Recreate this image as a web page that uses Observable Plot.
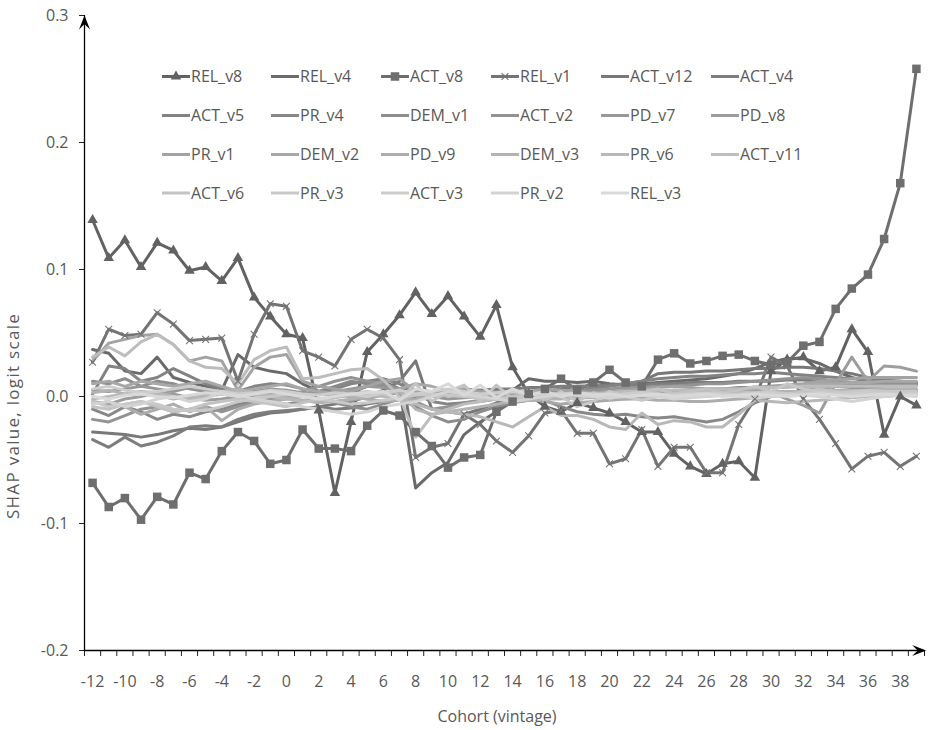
<!DOCTYPE html>
<html><head><meta charset="utf-8">
<script src="https://cdn.jsdelivr.net/npm/d3@7"></script>
<script src="https://cdn.jsdelivr.net/npm/@observablehq/plot@0.6"></script>
<style>
body{margin:0;background:#fff;}
#chart{width:928px;height:730px;overflow:hidden;}
</style></head><body><div id="chart"></div>
<script>
// ---------- DATA ----------
const cohorts = [-12,-11,-10,-9,-8,-7,-6,-5,-4,-3,-2,-1,0,1,2,3,4,5,6,7,8,9,10,11,12,13,14,15,16,17,18,19,20,21,22,23,24,25,26,27,28,29,30,31,32,33,34,35,36,37,38,39];
const xTickLabels = [-12,-10,-8,-6,-4,-2,0,2,4,6,8,10,12,14,16,18,20,22,24,26,28,30,32,34,36,38];
const yTickLabels = [-0.2,-0.1,0.0,0.1,0.2,0.3];
const seriesNames = ["REL_v8","REL_v4","ACT_v8","REL_v1","ACT_v12","ACT_v4","ACT_v5","PR_v4","DEM_v1","ACT_v2","PD_v7","PD_v8","PR_v1","DEM_v2","PD_v9","DEM_v3","PR_v6","ACT_v11","ACT_v6","PR_v3","ACT_v3","PR_v2","REL_v3"];
const xTitle = "Cohort (vintage)";
const yTitle = "SHAP value, logit scale";

const REL_v8 = [0.139,0.109,0.123,0.102,0.121,0.115,0.099,0.102,0.091,0.109,0.078,0.063,0.049,
  0.046,-0.011,-0.076,-0.020,0.035,0.049,0.064,0.082,0.065,0.079,0.063,0.047,0.072,
  0.023,0.002,-0.008,-0.012,-0.005,-0.009,-0.013,-0.020,-0.028,-0.028,-0.045,-0.055,-0.061,
  -0.053,-0.051,-0.064,0.020,0.029,0.031,0.020,0.023,0.053,0.035,-0.030,0.000,-0.007];
const REL_v4 = [0.037,0.034,0.020,0.018,0.031,0.015,0.011,0.008,0.005,0.033,0.023,0.020,0.018,
  0.010,0.004,0.000,0.003,0.008,0.012,0.006,-0.072,-0.060,-0.052,-0.030,-0.020,-0.012,
  0.005,0.014,0.012,0.012,0.011,0.012,0.010,0.009,0.010,0.011,0.012,0.013,0.014,
  0.016,0.018,0.022,0.027,0.030,0.030,0.026,0.020,0.015,0.012,0.011,0.010,0.010];
const ACT_v8 = [-0.068,-0.087,-0.080,-0.097,-0.079,-0.085,-0.060,-0.065,-0.043,-0.028,-0.035,-0.053,-0.050,
  -0.026,-0.041,-0.041,-0.043,-0.023,-0.011,-0.015,-0.028,-0.039,-0.056,-0.048,-0.046,-0.012,
  -0.004,0.002,0.006,0.014,0.005,0.011,0.021,0.011,0.008,0.029,0.034,0.026,0.028,
  0.032,0.033,0.028,0.025,0.027,0.040,0.043,0.069,0.085,0.096,0.124,0.168,0.258];
const REL_v1 = [0.027,0.053,0.048,0.049,0.066,0.057,0.044,0.045,0.046,0.012,0.049,0.073,0.071,
  0.036,0.031,0.024,0.045,0.053,0.046,0.029,-0.048,-0.040,-0.037,-0.014,-0.022,-0.035,
  -0.044,-0.031,-0.013,-0.011,-0.029,-0.029,-0.053,-0.049,-0.026,-0.055,-0.040,-0.040,-0.060,
  -0.060,-0.022,-0.002,0.031,0.024,-0.002,-0.018,-0.037,-0.057,-0.047,-0.044,-0.055,-0.047];
const ACT_v12 = [-0.028,-0.029,-0.030,-0.032,-0.030,-0.027,-0.025,-0.026,-0.024,-0.020,-0.016,-0.013,-0.012,
  -0.010,-0.008,-0.006,-0.004,0.000,0.005,0.012,0.028,-0.010,-0.012,-0.014,-0.010,-0.005,
  0.000,0.002,0.004,0.006,0.008,0.008,0.009,0.010,0.012,0.018,0.019,0.019,0.020,
  0.020,0.021,0.022,0.022,0.023,0.023,0.022,0.020,0.018,0.015,0.013,0.012,0.010];
const ACT_v4 = [-0.034,-0.040,-0.032,-0.039,-0.036,-0.031,-0.024,-0.023,-0.024,-0.018,-0.014,-0.012,-0.011,
  -0.010,-0.008,-0.010,-0.009,-0.006,-0.004,-0.002,0.000,0.002,0.003,0.004,0.005,0.006,
  0.006,0.007,0.007,0.008,0.008,0.008,0.009,0.009,0.009,0.010,0.010,0.011,0.011,
  0.011,0.012,0.012,0.012,0.013,0.013,0.012,0.012,0.011,0.011,0.010,0.010,0.009];
const ACT_v5 = [0.002,0.024,0.022,0.012,0.015,0.022,0.016,0.010,0.006,0.004,0.008,0.010,0.009,
  0.006,0.004,0.006,0.010,0.012,0.014,0.010,0.002,-0.004,-0.006,-0.005,-0.004,-0.002,
  0.000,0.002,0.003,0.004,0.005,0.006,0.008,0.010,0.012,0.014,0.015,0.016,0.016,
  0.017,0.018,0.018,0.019,0.018,0.017,0.016,0.015,0.014,0.013,0.012,0.012,0.011];
const PR_v4 = [-0.010,-0.015,-0.008,-0.012,-0.018,-0.014,-0.016,-0.012,-0.010,-0.006,-0.004,-0.003,0.000,
  0.002,0.004,0.008,0.012,0.010,0.008,0.006,0.003,0.002,0.004,0.006,0.005,0.004,
  0.003,0.002,-0.003,-0.008,-0.012,-0.014,-0.015,-0.014,-0.016,-0.017,-0.016,-0.018,-0.020,
  -0.018,-0.012,-0.005,0.000,0.003,0.005,0.006,0.008,0.007,0.006,0.005,0.005,0.004];
const DEM_v1 = [0.012,0.010,0.014,0.008,0.012,0.010,0.006,0.004,0.002,0.000,-0.002,-0.004,-0.006,
  -0.004,-0.002,-0.005,-0.008,-0.010,-0.006,-0.002,-0.008,-0.015,-0.020,-0.018,-0.012,-0.008,
  -0.005,-0.003,-0.002,-0.001,0.000,0.001,0.002,0.002,0.003,0.004,0.005,0.005,0.006,
  0.006,0.007,0.007,0.008,0.008,0.008,0.009,0.009,0.010,0.010,0.010,0.011,0.011];
const ACT_v2 = [-0.018,-0.020,-0.015,-0.010,-0.008,-0.012,-0.010,-0.008,-0.012,-0.008,-0.005,-0.002,0.000,
  0.004,0.008,0.012,0.015,0.012,0.010,0.006,-0.004,-0.010,-0.008,-0.005,-0.003,-0.002,
  -0.001,0.000,0.002,0.003,0.004,0.005,0.006,0.007,0.007,0.008,0.008,0.009,0.010,
  0.010,0.011,0.012,0.013,0.014,0.015,0.014,0.012,0.010,0.008,0.006,0.005,0.005];
const PD_v7 = [0.005,0.004,0.006,0.008,0.006,0.004,0.007,0.005,0.003,0.002,0.004,0.006,0.005,
  0.003,0.002,0.004,0.006,0.008,0.007,0.005,0.002,0.000,-0.002,-0.001,0.000,0.001,
  0.002,0.001,0.000,-0.001,0.000,0.001,0.002,0.003,0.003,0.004,0.004,0.005,0.005,
  0.006,0.006,0.007,0.007,0.008,0.008,0.008,0.008,0.008,0.009,0.009,0.009,0.009];
const PD_v8 = [-0.004,-0.006,-0.002,0.000,0.003,0.002,-0.001,-0.003,-0.002,0.000,0.001,0.002,0.001,
  0.000,-0.002,-0.004,-0.003,-0.001,0.001,0.003,0.005,0.004,0.002,0.001,0.000,-0.002,
  -0.004,-0.003,-0.002,-0.001,0.000,0.001,0.002,0.001,0.000,0.002,0.004,0.003,0.002,
  0.004,0.006,0.005,0.003,-0.002,-0.007,-0.013,0.010,0.031,0.012,0.024,0.023,0.020];
const PR_v1 = [0.028,0.042,0.045,0.048,0.049,0.041,0.028,0.031,0.028,0.005,0.023,0.031,0.033,
  0.012,0.008,0.006,0.004,0.008,0.012,0.014,0.004,0.002,0.004,0.006,0.004,0.003,
  0.002,0.004,0.006,0.005,0.004,0.003,0.004,0.005,0.006,0.007,0.008,0.007,0.006,
  0.006,0.006,0.007,0.008,0.009,0.010,0.012,0.013,0.014,0.015,0.015,0.015,0.015];
const DEM_v2 = [0.010,0.012,0.008,0.012,0.010,0.008,0.010,0.012,0.008,0.004,0.006,0.008,0.010,
  0.006,0.004,0.002,0.000,-0.002,0.002,0.006,0.010,0.008,0.004,0.003,0.002,0.001,
  0.000,-0.002,-0.004,-0.006,-0.005,-0.004,-0.003,-0.002,-0.001,0.000,0.001,0.002,0.003,
  0.004,0.005,0.006,0.007,0.008,0.009,0.010,0.010,0.011,0.011,0.012,0.012,0.012];
const PD_v9 = [-0.006,-0.004,-0.008,-0.014,-0.010,-0.006,-0.012,-0.008,-0.019,-0.010,-0.006,-0.004,-0.002,
  0.000,0.002,0.001,0.000,-0.002,-0.004,-0.003,-0.002,0.000,0.001,0.002,0.002,0.003,
  0.003,0.004,0.003,0.002,0.001,0.000,-0.001,-0.002,-0.002,-0.003,-0.003,-0.004,-0.004,
  -0.003,-0.002,-0.001,0.000,0.001,0.002,0.003,0.004,0.005,0.005,0.006,0.006,0.006];
const DEM_v3 = [0.003,0.005,0.002,0.004,0.001,-0.002,0.000,0.002,0.004,0.006,0.003,0.001,-0.001,
  -0.003,-0.005,-0.004,-0.002,0.000,0.002,0.004,-0.010,-0.014,-0.012,-0.010,-0.008,-0.006,
  -0.004,-0.003,-0.002,-0.002,-0.001,-0.001,0.000,0.000,0.001,0.001,0.002,0.002,0.002,
  0.003,0.003,0.003,0.004,0.004,0.004,0.005,0.005,0.005,0.005,0.006,0.006,0.006];
const PR_v6 = [-0.002,0.000,0.002,0.004,0.003,0.000,-0.002,0.000,0.002,0.004,0.002,0.000,-0.002,
  -0.004,-0.003,-0.001,0.001,0.002,0.000,-0.002,-0.006,-0.010,-0.012,-0.014,-0.016,-0.020,
  -0.024,-0.016,-0.008,-0.015,-0.015,-0.018,-0.024,-0.026,-0.013,-0.022,-0.019,-0.020,-0.024,
  -0.024,-0.014,-0.003,-0.004,-0.005,-0.004,-0.003,-0.002,-0.001,0.000,0.000,0.001,0.001];
const ACT_v11 = [0.031,0.039,0.032,0.043,0.049,0.041,0.028,0.023,0.022,0.010,0.029,0.036,0.039,
  0.014,0.015,0.018,0.021,0.022,0.013,0.000,-0.032,-0.015,-0.010,-0.006,-0.004,-0.002,
  0.000,0.002,0.003,0.002,0.001,0.002,0.003,0.004,0.004,0.005,0.005,0.005,0.006,
  0.006,0.006,0.007,0.007,0.007,0.008,0.008,0.008,0.008,0.008,0.008,0.008,0.008];
const ACT_v6 = [-0.008,-0.010,-0.006,-0.004,-0.008,-0.012,-0.010,-0.006,-0.004,-0.002,-0.004,-0.006,-0.008,
  -0.005,-0.002,0.000,0.002,0.004,0.002,-0.002,0.010,-0.004,0.004,0.009,-0.004,0.009,
  -0.002,0.005,-0.003,0.004,-0.004,0.003,-0.002,0.002,0.004,0.006,0.002,0.004,0.006,
  0.003,0.005,0.008,0.004,0.002,0.004,0.006,0.004,0.002,0.003,0.004,0.003,0.003];
const PR_v3 = [-0.004,-0.008,-0.006,-0.004,-0.006,-0.010,-0.011,-0.011,-0.008,-0.004,-0.002,0.000,0.002,
  0.000,-0.002,-0.004,-0.006,-0.005,-0.003,-0.001,0.001,0.002,0.001,0.000,-0.001,-0.002,
  -0.001,0.000,0.001,0.000,-0.008,-0.004,0.004,0.000,-0.003,0.000,0.002,0.001,0.000,
  0.001,0.002,0.003,0.004,0.010,0.006,0.004,0.003,0.004,0.005,0.004,0.004,0.004];
const ACT_v3 = [0.006,0.008,0.005,0.003,0.004,0.006,0.008,0.006,0.004,0.002,0.003,0.005,0.004,
  0.002,0.001,0.003,0.002,0.000,0.003,0.005,0.002,0.004,0.006,0.004,0.002,0.003,
  0.004,0.002,0.001,0.002,0.003,0.002,0.001,0.002,0.003,0.002,0.001,0.002,0.003,
  0.002,0.001,0.002,0.003,0.002,0.002,0.003,0.002,0.002,0.003,0.002,0.002,0.002];
const PR_v2 = [-0.006,-0.004,-0.008,-0.006,-0.002,0.000,-0.004,-0.002,0.004,0.001,-0.002,-0.004,-0.006,
  -0.008,-0.010,-0.012,-0.014,-0.012,-0.008,-0.006,-0.004,0.000,0.004,0.002,0.000,-0.002,
  -0.004,-0.002,0.000,0.002,0.001,0.000,-0.001,0.000,0.001,0.000,-0.002,-0.001,0.000,
  0.001,0.000,-0.001,0.000,0.001,0.001,0.000,-0.002,-0.004,-0.002,0.000,0.001,0.000];
const REL_v3 = [0.000,-0.002,0.001,0.002,0.000,-0.001,0.001,0.003,0.002,0.000,0.002,0.004,0.002,
  0.000,-0.002,0.000,0.002,0.003,0.004,-0.003,0.006,0.004,0.010,0.001,0.009,-0.001,
  0.006,0.001,0.004,0.000,0.003,0.001,0.002,0.000,0.001,0.002,0.000,0.001,0.002,
  0.000,0.001,0.002,0.001,0.000,0.001,0.002,0.001,0.000,0.001,0.002,0.001,0.001];

const seriesValues = [REL_v8,REL_v4,ACT_v8,REL_v1,ACT_v12,ACT_v4,ACT_v5,PR_v4,DEM_v1,ACT_v2,PD_v7,PD_v8,PR_v1,DEM_v2,PD_v9,DEM_v3,PR_v6,ACT_v11,ACT_v6,PR_v3,ACT_v3,PR_v2,REL_v3];

// ---------- STYLE ----------
const colors = ["#626262","#6a6a6a","#6e6e6e","#747474","#787878","#7d7d7d","#838383","#888888","#8d8d8d","#939393","#989898","#9d9d9d","#a3a3a3","#a8a8a8","#adadad","#b3b3b3","#b8b8b8","#bdbdbd","#c3c3c3","#c8c8c8","#cdcdcd","#d3d3d3","#d9d9d9"];
const markerOf = {REL_v8: "triangle", ACT_v8: "square", REL_v1: "times"};
const FONT = "Open Sans";
const TEXT = "#595959";

const rows = [];
seriesNames.forEach((s, i) => seriesValues[i].forEach((v, j) => rows.push({series: s, cohort: cohorts[j], value: v})));

const arrowUp = {draw(ctx) { ctx.moveTo(0, 0); ctx.lineTo(5.5, 14); ctx.lineTo(0, 8.5); ctx.lineTo(-5.5, 14); ctx.closePath(); }};
const arrowRight = {draw(ctx) { ctx.moveTo(0, 0); ctx.lineTo(-14, 5.5); ctx.lineTo(-8.5, 0); ctx.lineTo(-14, -5.5); ctx.closePath(); }};

const xMin = cohorts[0] - 0.5, xMax = cohorts[cohorts.length - 1] + 0.5;
const tickEdges = cohorts.map(c => c - 0.5).concat([xMax]);

const chart = Plot.plot({
  width: 928, height: 730,
  marginLeft: 84, marginRight: 4, marginTop: 15, marginBottom: 80,
  style: {fontFamily: FONT, fontSize: "16px", color: TEXT, background: "white"},
  x: {domain: [xMin, xMax]},
  y: {domain: [yTickLabels[0], yTickLabels[yTickLabels.length - 1]]},
  color: {domain: seriesNames, range: colors},
  marks: [
    Plot.axisY({ticks: yTickLabels, tickSize: 5, tickPadding: 11, tickFormat: d => d.toFixed(1), stroke: "#222", fill: TEXT, label: null, fontSize: 16}),
    Plot.axisX({ticks: tickEdges, tickSize: 6, tickFormat: () => "", stroke: "#222", label: null}),
    Plot.axisX({ticks: xTickLabels, tickSize: 0, tickPadding: 25, tickFormat: d => String(d), fill: TEXT, label: null, fontSize: 16}),
    Plot.line(rows, {x: "cohort", y: "value", z: "series", stroke: "series", strokeWidth: 3, strokeLinejoin: "round", strokeLinecap: "round"}),
    Plot.dot(rows.filter(d => markerOf[d.series] === "triangle"), {x: "cohort", y: "value", symbol: "triangle", r: 3.9, fill: "series", stroke: "none"}),
    Plot.dot(rows.filter(d => markerOf[d.series] === "square"), {x: "cohort", y: "value", symbol: "square", r: 4.8, fill: "series", stroke: "none"}),
    Plot.dot(rows.filter(d => markerOf[d.series] === "times"), {x: "cohort", y: "value", symbol: "times", r: 3.2, stroke: "series", strokeWidth: 1.1}),
    Plot.ruleX([xMin], {y1: yTickLabels[0], y2: yTickLabels[yTickLabels.length - 1], stroke: "#000", strokeWidth: 1.3}),
    Plot.ruleY([yTickLabels[0]], {x1: xMin, x2: xMax, stroke: "#000", strokeWidth: 1.3}),
    Plot.dot([{x: xMin, y: yTickLabels[yTickLabels.length - 1]}], {x: "x", y: "y", symbol: arrowUp, r: 5, fill: "#000", stroke: "none"}),
    Plot.dot([{x: xMax + 0.1, y: yTickLabels[0]}], {x: "x", y: "y", symbol: arrowRight, r: 5, fill: "#000", stroke: "none"})
  ]
});
document.getElementById("chart").appendChild(chart);

const svg = d3.select(chart);

// ---------- AXIS TITLES ----------
svg.append("text").attr("x", 497).attr("y", 722).attr("text-anchor", "middle")
  .attr("font-family", FONT).attr("font-size", 16).attr("fill", TEXT).text(xTitle);
svg.append("text").attr("transform", "translate(18.5,416) rotate(-90)").attr("text-anchor", "middle")
  .attr("font-family", FONT).attr("font-size", 17).attr("letter-spacing", 1.3).attr("fill", TEXT).text(yTitle);

// ---------- LEGEND (inside the plot area, 6 columns) ----------
const legendTextX = [190, 299, 409, 519, 629, 739];
const legendRowY = [76.5, 115.5, 154.5, 193];
const lg = svg.append("g").attr("font-family", FONT).attr("font-size", 16).attr("fill", TEXT).attr("text-anchor", "start");
seriesNames.forEach((name, i) => {
  const tx = legendTextX[i % 6], ty = legendRowY[Math.floor(i / 6)];
  lg.append("line").attr("x1", tx - 28).attr("x2", tx).attr("y1", ty).attr("y2", ty)
    .attr("stroke", colors[i]).attr("stroke-width", 3);
  const m = markerOf[name];
  if (m === "triangle") lg.append("path").attr("d", d3.symbol(d3.symbolTriangle, Math.PI * 3.9 * 3.9)()).attr("transform", `translate(${tx - 14},${ty})`).attr("fill", colors[i]);
  if (m === "square") lg.append("path").attr("d", d3.symbol(d3.symbolSquare, Math.PI * 4.8 * 4.8)()).attr("transform", `translate(${tx - 14},${ty})`).attr("fill", colors[i]);
  if (m === "times") lg.append("path").attr("d", d3.symbol(d3.symbolTimes, Math.PI * 3.2 * 3.2)()).attr("transform", `translate(${tx - 14},${ty})`).attr("fill", "none").attr("stroke", colors[i]).attr("stroke-width", 1.1);
  lg.append("text").attr("x", tx + 1).attr("y", ty).attr("dy", "0.36em").attr("text-anchor", "start").text(name);
});
</script>
</body></html>
